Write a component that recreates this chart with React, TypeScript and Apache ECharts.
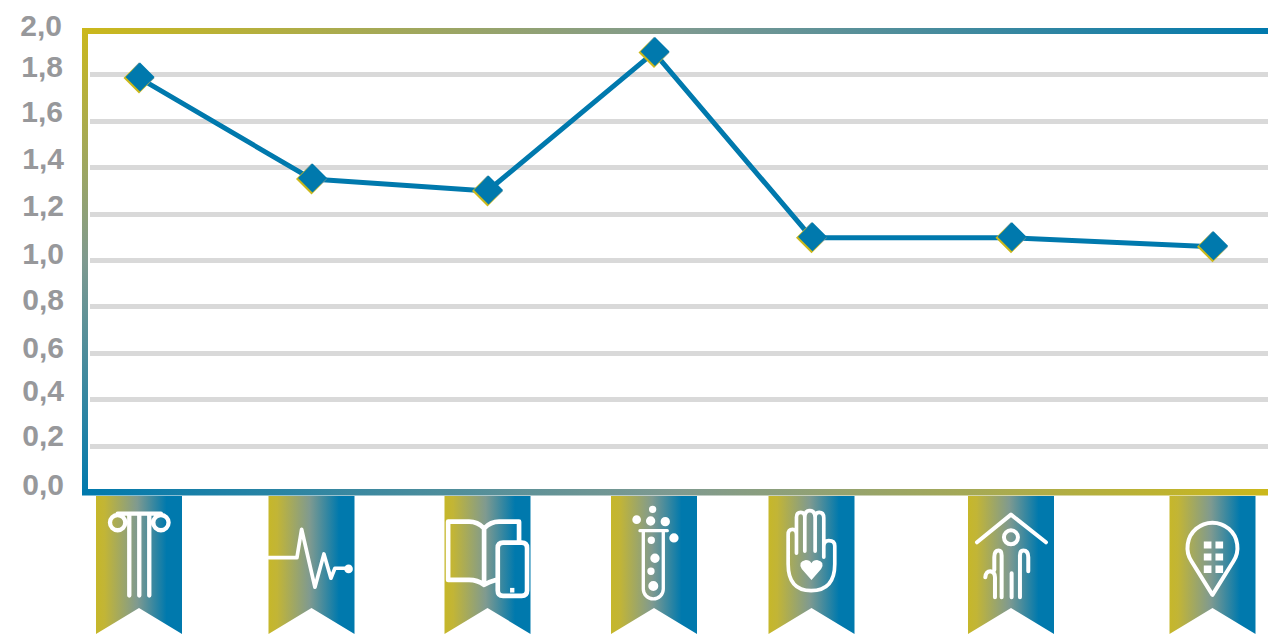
import React, { useEffect, useRef } from "react";
import * as echarts from "echarts";

const categories = ["column", "pulse", "book", "tube", "hand", "house", "pin"];
const seriesValues = [1.785, 1.35, 1.298, 1.895, 1.097, 1.097, 1.058];
const xPositions = [139, 311.5, 487.5, 654, 811.5, 1011, 1212.5];
const tickValues = [0, 0.2, 0.4, 0.6, 0.8, 1, 1.2, 1.4, 1.6, 1.8, 2];
const tickLabels = ["0,0", "0,2", "0,4", "0,6", "0,8", "1,0", "1,2", "1,4", "1,6", "1,8", "2,0"];
// how far each tick label sits above its gridline in the picture, and how far it sits left of the lowest ones
const labelRaise = [8.5, 11, 9, 6, 7, 7, 8, 8.4, 9, 7.5, 3];
const labelIndent = [0, 0, 0, 0, 0, 0, 0, 0, 1, 1, 2];

const BLUE = "#0079ad";
const YELLOW = "#cbb81b";
const MID = "#7f9a90";

const dot = (x: number, y: number, r: number) =>
  `M${x - r} ${y}A${r} ${r} 0 1 0 ${x + r} ${y}A${r} ${r} 0 1 0 ${x - r} ${y}Z`;
const sq = (x: number, y: number, w: number, h: number) => `M${x} ${y}H${x + w}V${y + h}H${x}Z`;

// Ribbon artwork, drawn in 3x pixels: ox = horizontal centre, top = page y of the artwork's 0.
const icons: Record<string, { ox: number; top: number; lw: number; stroke: string; fill?: string }> = {
  column: {
    ox: 177, top: 480, lw: 13,
    stroke: `M113 101H243${dot(113, 128, 23)}${dot(243, 128, 23)}M148 106V347M178 106V347M208 106V347`,
  },
  pulse: {
    ox: 693, top: 480, lw: 11,
    stroke: "M565 233H650L664 148L704 322L731 222L752 295L764 265H795",
    fill: dot(805, 267, 13),
  },
  book: {
    ox: 1224, top: 480, lw: 14,
    stroke:
      "M1320 185V125H1260Q1235 125 1215 145Q1195 125 1170 125H1107V300H1170Q1195 300 1215 315Q1230 305 1250 300M1215 145V312" +
      "M1272 188H1328Q1344 188 1344 204V332Q1344 348 1328 348H1272Q1256 348 1256 332V204Q1256 188 1272 188Z",
    fill: sq(1293, 324, 13, 14),
  },
  tube: {
    ox: 132, top: 494, lw: 10,
    stroke: "M90 110H172M100 110V285A30 30 0 0 0 160 285V110",
    fill:
      dot(128, 46, 11) + dot(80, 77, 13) + dot(122, 81, 14) + dot(166, 83, 14) + dot(192, 132, 14) +
      dot(124, 139, 11) + dot(135, 193, 14) + dot(123, 232, 11) + dot(130, 276, 15),
  },
  hand: {
    ox: 135, top: 494, lw: 11,
    stroke:
      "M65 210V122Q65 106 78 106Q90 106 90 122V70Q90 55 103 55Q115 55 115 70Q115 50 130 50Q145 50 146 70Q146 55 158 55Q172 55 172 72V158Q172 140 187 140Q205 140 205 156V210Q205 290 134 290Q65 290 65 210Z" +
      "M90 122V178M115 70V172M146 70V172M172 158V190",
    fill: "M135 258L106 225Q93 203 118 198Q130 198 135 208Q140 198 152 198Q177 203 164 225Z",
  },
  house: {
    ox: 135, top: 494, lw: 12,
    stroke:
      `M33 145L135 62L240 145${dot(135, 130, 21)}` +
      "M85 228V190Q85 170 98 170Q107 170 107 185V310M137 238V310M162 310V185Q162 170 172 170Q187 170 187 190V232M58 250Q60 232 73 232Q87 234 87 250V310",
  },
  pin: {
    ox: 135, top: 494, lw: 12,
    stroke: "M135 303L72 202A75 75 0 1 1 198 202Z",
    fill:
      sq(109, 143, 23, 21) + sq(144, 143, 23, 21) + sq(109, 179, 23, 21) + sq(144, 179, 23, 21) +
      sq(109, 215, 23, 22) + sq(144, 215, 23, 22),
  },
};

const hGrad = (a: string, b: string) => ({
  type: "linear", x: 0, y: 0, x2: 1, y2: 0,
  colorStops: [{ offset: 0, color: a }, { offset: 0.5, color: MID }, { offset: 1, color: b }],
});
const vGrad = (a: string, b: string) => ({
  type: "linear", x: 0, y: 0, x2: 0, y2: 1,
  colorStops: [{ offset: 0, color: a }, { offset: 0.5, color: MID }, { offset: 1, color: b }],
});
const ribbonFill = {
  type: "linear", x: 0, y: 0, x2: 1, y2: 0,
  colorStops: [
    { offset: 0, color: "#c6b72a" },
    { offset: 0.1, color: "#c2b536" },
    { offset: 0.48, color: MID },
    { offset: 0.82, color: BLUE },
    { offset: 1, color: BLUE },
  ],
};
const markerFill = {
  type: "linear", x: 0, y: 1, x2: 1, y2: 0,
  colorStops: [
    { offset: 0, color: YELLOW },
    { offset: 0.5, color: YELLOW },
    { offset: 0.62, color: MID },
    { offset: 1, color: BLUE },
  ],
};

const renderRibbon = (params: any, api: any) => {
  const cx = api.coord([api.value(0), 0])[0];
  const half = 43;
  const icon = icons[categories[params.dataIndex]];
  const place = {
    x: cx - icon.ox / 3,
    y: icon.top,
    scaleX: 1 / 3,
    scaleY: 1 / 3,
  };
  const children: any[] = [
    {
      type: "polygon",
      shape: {
        points: [
          [cx - half, 496],
          [cx + half, 496],
          [cx + half, 634],
          [cx, 608],
          [cx - half, 634],
        ],
      },
      style: { fill: ribbonFill },
    },
    {
      type: "path",
      ...place,
      shape: { pathData: icon.stroke },
      style: { fill: "none", stroke: "#fff", lineWidth: icon.lw, lineCap: "round", lineJoin: "round" },
    },
  ];
  if (icon.fill) {
    children.push({
      type: "path",
      ...place,
      shape: { pathData: icon.fill },
      style: { fill: "#fff" },
    });
  }
  return { type: "group", children };
};

const richLabels: Record<string, any> = {};
tickValues.forEach((_, i) => {
  richLabels["t" + i] = {
    color: "#97989b",
    fontFamily: "Liberation Sans",
    fontWeight: "bold",
    fontSize: 30,
    padding: [0, labelIndent[i], labelRaise[i] * 2, 0],
  };
});

export default function App() {
  const ref = useRef<HTMLDivElement>(null);
  useEffect(() => {
    document.body.style.margin = "0";
    const chart = echarts.init(ref.current!, null, { renderer: "svg" });
    const points = xPositions.map((x, i) => [x, seriesValues[i]]);
    chart.setOption({
      animation: false,
      backgroundColor: "#fff",
      grid: { left: 90, right: 0, top: 28, height: 464.5 },
      xAxis: { type: "value", min: 90, max: 1268, show: false },
      yAxis: {
        type: "value",
        min: 0,
        max: 2,
        interval: 0.2,
        axisLine: { show: false },
        axisTick: { show: false },
        splitLine: {
          show: true,
          showMinLine: false,
          showMaxLine: false,
          lineStyle: { color: "#d9d9d9", width: 5 },
        },
        axisLabel: {
          margin: 26,
          rich: richLabels,
          formatter: (v: number) => {
            const i = tickValues.findIndex((t) => Math.abs(t - v) < 1e-6);
            return `{t${i}|${tickLabels[i]}}`;
          },
        },
      },
      graphic: [
        { type: "rect", x: 82, y: 28, z: 1, shape: { width: 6, height: 467 }, style: { fill: vGrad(YELLOW, BLUE) } },
        { type: "rect", x: 82, y: 28, z: 1, shape: { width: 1186, height: 6 }, style: { fill: hGrad(YELLOW, BLUE) } },
        { type: "rect", x: 82, y: 489, z: 1, shape: { width: 1186, height: 6.5 }, style: { fill: hGrad(BLUE, YELLOW) } },
      ],
      series: [
        {
          type: "custom",
          clip: false,
          silent: true,
          data: xPositions.map((x) => [x, 0]),
          encode: { x: 0, y: 1 },
          renderItem: renderRibbon,
        },
        {
          type: "line",
          data: points,
          symbol: "diamond",
          symbolSize: 31,
          showSymbol: true,
          silent: true,
          lineStyle: { color: BLUE, width: 5 },
          itemStyle: { color: markerFill },
          z: 3,
        },
        {
          type: "line",
          data: points,
          symbol: "diamond",
          symbolSize: 29,
          symbolOffset: [1, -1],
          silent: true,
          lineStyle: { width: 0, opacity: 0 },
          itemStyle: { color: BLUE },
          z: 4,
        },
      ],
    });
    return () => chart.dispose();
  }, []);
  return <div ref={ref} style={{ width: 1268, height: 634 }} />;
}
